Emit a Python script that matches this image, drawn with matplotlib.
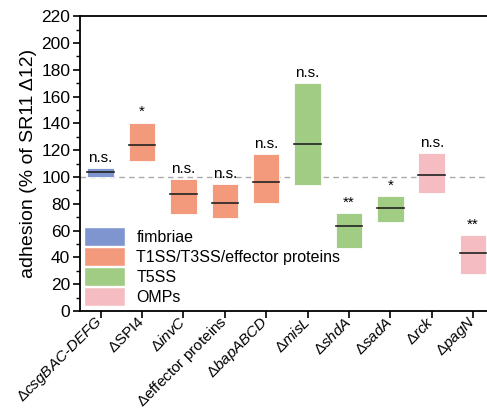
import matplotlib.pyplot as plt
from matplotlib.patches import Patch
from matplotlib.ticker import MultipleLocator

plt.rcParams['font.family'] = ['Liberation Sans', 'DejaVu Sans']
plt.rcParams['mathtext.fontset'] = 'custom'
plt.rcParams['mathtext.rm'] = 'Liberation Sans'
plt.rcParams['mathtext.it'] = 'Liberation Sans:italic'
plt.rcParams['mathtext.bf'] = 'Liberation Sans:bold'

labels = [r'$\Delta\it{csgBAC}$-$\it{DEFG}$', r'$\Delta$SPI4', r'$\Delta\it{invC}$',
          r'$\Delta$effector proteins', r'$\Delta\it{bapABCD}$', r'$\Delta\it{misL}$',
          r'$\Delta\it{shdA}$', r'$\Delta\it{sadA}$', r'$\Delta\it{rck}$', r'$\Delta\it{pagN}$']
lows = [100.0, 111.8, 72.3, 69.1, 80.5, 94.0, 47.2, 66.1, 88.0, 27.4]
highs = [106.6, 140.6, 98.4, 94.5, 117.1, 170.2, 72.8, 85.5, 117.8, 56.7]
medians = [103.6, 123.8, 87.5, 80.3, 96.0, 124.8, 63.6, 77.0, 101.2, 43.5]
groups = [0, 1, 1, 1, 1, 2, 2, 2, 3, 3]
signif = ['n.s.', '*', 'n.s.', 'n.s.', 'n.s.', 'n.s.', '**', '*', 'n.s.', '**']

group_names = ['fimbriae', 'T1SS/T3SS/effector proteins', 'T5SS', 'OMPs']
group_colors = ['#7f95cf', '#f49a7c', '#a0cc83', '#f5bcc1']

fig = plt.figure(figsize=(4.87, 4.13), dpi=100)
ax = fig.add_axes([0.164, 0.247, 0.85, 0.714])

w = 0.64
for i in range(len(labels)):
    x = i + 1
    c = group_colors[groups[i]]
    ax.bar(x, highs[i] - lows[i], bottom=lows[i], width=w, color=c,
           edgecolor='white', linewidth=0.6, zorder=2)
    ax.plot([x - w / 2, x + w / 2], [medians[i], medians[i]], color='#222222', lw=1.2, zorder=3)
    ax.text(x, highs[i] + 2.5, signif[i], ha='center', va='bottom', fontsize=11)

ax.axhline(100, color='#aaaaaa', ls=(0, (4, 3)), lw=1, zorder=1)

ax.set_xlim(0.5, 10.5)
ax.set_ylim(0, 220)
ax.yaxis.set_major_locator(MultipleLocator(20))
ax.yaxis.set_minor_locator(MultipleLocator(10))
ax.set_xticks(range(1, 11))
ax.set_xticklabels(labels, rotation=45, ha='right', va='center', rotation_mode='anchor', fontsize=11)
ax.tick_params(axis='y', labelsize=12.5, direction='out', width=1.2, length=5, pad=2)
ax.tick_params(axis='y', which='minor', direction='out', width=1, length=3)
ax.tick_params(axis='x', direction='out', width=1.2, length=5, pad=1)
for s in ax.spines.values():
    s.set_linewidth(1.3)
ax.set_ylabel('adhesion (% of SR11 Δ12)', fontsize=14, labelpad=3)

handles = [Patch(facecolor=c, edgecolor='white') for c in group_colors]
ax.legend(handles, group_names, loc='lower left', bbox_to_anchor=(-0.018, -0.02),
          frameon=False, fontsize=11.5, handlelength=2.6, handleheight=1.4,
          handletextpad=0.7, labelspacing=0.1, borderaxespad=0.3)

fig.savefig('out.png', dpi=100)
